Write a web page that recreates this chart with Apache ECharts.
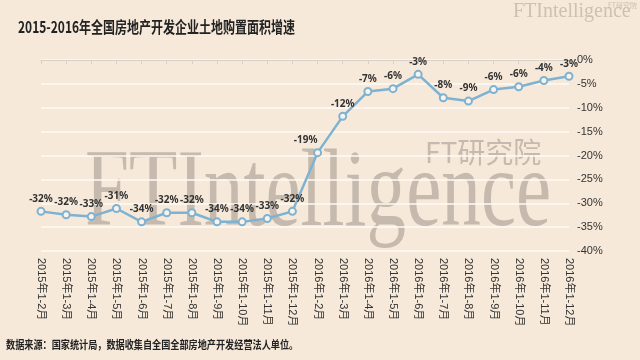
<!DOCTYPE html>
<html>
<head>
<meta charset="utf-8">
<script src="https://cdn.jsdelivr.net/npm/echarts@6/dist/echarts.min.js"></script>
<style>html,body{margin:0;padding:0;background:#f6e9d9;}#c{width:640px;height:360px;}</style>
</head>
<body>
<div id="c"></div>
<script>
var categories = ['2015年1-2月','2015年1-3月','2015年1-4月','2015年1-5月','2015年1-6月','2015年1-7月','2015年1-8月','2015年1-9月','2015年1-10月','2015年1-11月','2015年1-12月',
  '2016年1-2月','2016年1-3月','2016年1-4月','2016年1-5月','2016年1-6月','2016年1-7月','2016年1-8月','2016年1-9月','2016年1-10月','2016年1-11月','2016年1-12月'];
var growth = [-31.7,-32.4,-32.8,-31.1,-33.9,-32.0,-32.0,-33.9,-33.9,-33.2,-31.7,
  -19.4,-11.8,-6.6,-6.0,-3.0,-7.9,-8.6,-6.2,-5.6,-4.3,-3.4];
var yTicks = { min: -40, max: 0, interval: 5 };
var titleText = '2015-2016年全国房地产开发企业土地购置面积增速';
var sourceText = '数据来源：国家统计局，数据收集自全国全部房地产开发经营法人单位。';

var chart = echarts.init(document.getElementById('c'));
var seriesData = growth.map(function (v, i) {
  var d = { value: v };
  if (i === 11) d.label = { offset: [-12, 0] };
  return d;
});
var wm = '#c5baad';
chart.setOption({
  backgroundColor: '#f6e9d9',
  animation: false,
  grid: { left: 41, right: 71, top: 60, bottom: 109 },
  xAxis: {
    type: 'category',
    data: categories,
    boundaryGap: false,
    axisLine: { lineStyle: { color: '#d6d0c8', width: 1 } },
    axisTick: { show: true, length: 4, lineStyle: { color: '#d6d0c8' } },
    axisLabel: { rotate: -90, margin: 7, fontSize: 11, color: '#333', fontFamily: 'Liberation Sans, Noto Sans CJK SC' },
    splitLine: { show: false }
  },
  yAxis: {
    type: 'value',
    position: 'right',
    min: yTicks.min, max: yTicks.max, interval: yTicks.interval,
    axisLine: { show: false },
    axisTick: { show: false },
    axisLabel: { formatter: '{value}%', fontSize: 11, color: '#333', margin: 8, fontFamily: 'Liberation Sans' },
    splitLine: { lineStyle: { color: '#fefaf5', width: 1.5 } }
  },
  graphic: [
    { type: 'text', z: -10, x: 85, y: 196, scaleX: 0.72,
      style: { text: 'FTIntelligence', font: '110px "Liberation Serif"', fill: wm, verticalAlign: 'middle', align: 'left' } },
    { type: 'text', z: -10, x: 425, y: 152,
      style: { text: 'FT研究院', font: '28px "Noto Sans CJK SC"', fill: wm, verticalAlign: 'middle', align: 'left' } },
    { type: 'text', x: 513, y: 12,
      style: { text: 'FTIntelligence', font: '20px "Liberation Serif"', fill: '#cbc1b5', verticalAlign: 'middle', align: 'left' } },
    { type: 'text', x: 637, y: 5,
      style: { text: 'FT研究院', font: '7px "Noto Sans CJK SC"', fill: '#cbc1b5', verticalAlign: 'middle', align: 'right' } },
    { type: 'text', x: 18, y: 27, scaleX: 0.75,
      style: { text: titleText, font: 'bold 16px "Noto Sans CJK SC"', fill: '#222', verticalAlign: 'middle', align: 'left' } },
    { type: 'text', x: 6, y: 345, scaleX: 0.83,
      style: { text: sourceText, font: 'bold 11px "Noto Sans CJK SC"', fill: '#222', verticalAlign: 'middle', align: 'left' } }
  ],
  series: [{
    type: 'line',
    data: seriesData,
    symbol: 'circle',
    symbolSize: 7,
    lineStyle: { color: '#7db2d2', width: 2.5 },
    itemStyle: { color: '#fbf3ea', borderColor: '#7db2d2', borderWidth: 2 },
    label: {
      show: true, position: 'top', distance: 3,
      fontSize: 10, fontWeight: 'bold', color: '#333', fontFamily: 'Noto Sans',
      formatter: function (p) { return Math.round(p.value) + '%'; }
    }
  }]
});
</script>
</body>
</html>
